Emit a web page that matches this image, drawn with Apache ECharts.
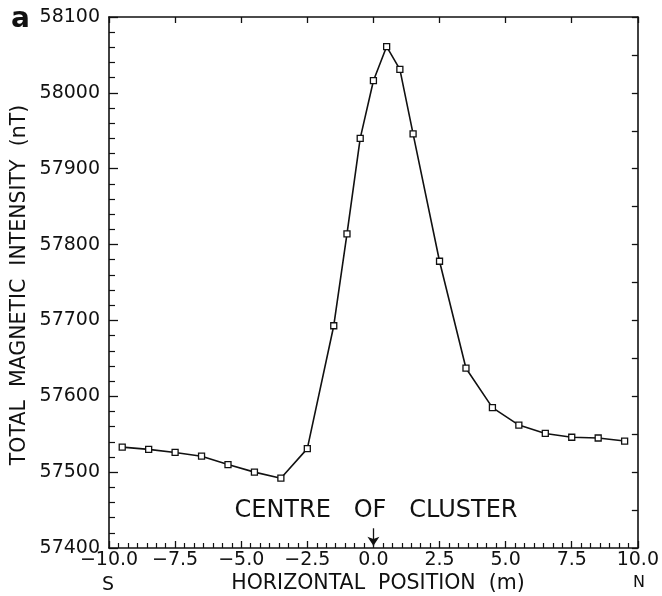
<!DOCTYPE html>
<html>
<head>
<meta charset="utf-8">
<script src="https://cdn.jsdelivr.net/npm/echarts@6/dist/echarts.min.js"></script>
<style>
html,body{margin:0;padding:0;background:#fff;}
#chart{width:662px;height:596px;}
</style>
</head>
<body>
<div id="chart"></div>
<script>
// Horizontal position (m)
var positions = [-9.5,-8.5,-7.5,-6.5,-5.5,-4.5,-3.5,-2.5,-1.5,-1.0,-0.5,0.0,0.5,1.0,1.5,2.5,3.5,4.5,5.5,6.5,7.5,8.5,9.5];
// Total magnetic intensity (nT)
var intensity = [57533,57530,57526,57521,57510,57500,57492,57531,57693,57814,57940,58016,58061,58031,57946,57778,57637,57585,57562,57551,57546,57545,57541];
// Axis settings
var xRange = [-10, 10], xStep = 2.5, xMinorDivisions = 7;
var yRange = [57400, 58100], yStep = 100, yMinorDivisions = 5, yRightStep = 50;
// Centre of cluster marker
var clusterCentre = 0.0;
var arrowFrom = 57426, arrowTo = 57403;

var FONT = 'DejaVu Sans';
var INK = '#111';

var chart = echarts.init(document.getElementById('chart'), null, {renderer: 'canvas'});

function fmtX(v){ return v.toFixed(1).replace('-', '\u2212'); }
function fmtY(v){ return String(Math.round(v)); }

var pts = positions.map(function(p, i){ return [p, intensity[i]]; });

chart.setOption({
  animation: false,
  backgroundColor: '#fff',
  grid: {left: 109, right: 22, top: 17, bottom: 48, containLabel: false},
  xAxis: [{
    type: 'value', min: xRange[0], max: xRange[1], interval: xStep,
    axisLine: {show: true, onZero: false, lineStyle: {color: INK, width: 1.6}},
    axisTick: {show: true, inside: true, length: 7, lineStyle: {color: INK, width: 1.3}},
    minorTick: {show: true, splitNumber: xMinorDivisions, length: 5, lineStyle: {color: INK, width: 1.2}},
    splitLine: {show: false},
    axisLabel: {show: true, margin: 3, fontFamily: FONT, fontSize: 19, color: INK, formatter: fmtX}
  }, {
    type: 'value', position: 'top', min: xRange[0], max: xRange[1], interval: xStep,
    axisLine: {show: true, onZero: false, lineStyle: {color: INK, width: 1.6}},
    axisTick: {show: true, inside: true, length: 6, lineStyle: {color: INK, width: 1.3}},
    splitLine: {show: false},
    axisLabel: {show: false}
  }],
  yAxis: [{
    type: 'value', min: yRange[0], max: yRange[1], interval: yStep,
    axisLine: {show: true, onZero: false, lineStyle: {color: INK, width: 1.6}},
    axisTick: {show: true, inside: true, length: 9, lineStyle: {color: INK, width: 1.3}},
    minorTick: {show: true, splitNumber: yMinorDivisions, length: 6, lineStyle: {color: INK, width: 1.2}},
    splitLine: {show: false},
    axisLabel: {show: true, margin: 9, fontFamily: FONT, fontSize: 19, color: INK, formatter: fmtY}
  }, {
    type: 'value', position: 'right', min: yRange[0], max: yRange[1], interval: yRightStep,
    axisLine: {show: true, onZero: false, lineStyle: {color: INK, width: 1.6}},
    axisTick: {show: true, inside: true, length: 6, lineStyle: {color: INK, width: 1.3}},
    splitLine: {show: false},
    axisLabel: {show: false}
  }],
  series: [{
    type: 'line',
    data: pts,
    xAxisIndex: 0, yAxisIndex: 0,
    symbol: 'rect', symbolSize: 6,
    showAllSymbol: true,
    lineStyle: {color: INK, width: 1.6},
    itemStyle: {color: '#fff', borderColor: INK, borderWidth: 1.3},
    z: 3,
    markLine: {
      silent: true,
      symbol: ['none', 'arrow'],
      symbolSize: [9, 9],
      lineStyle: {color: INK, width: 1.3, type: 'solid'},
      label: {show: false},
      data: [[{coord: [clusterCentre, arrowFrom]}, {coord: [clusterCentre, arrowTo]}]]
    }
  }],
  graphic: [
    {type: 'text', left: 11, top: 6, style: {text: 'a', font: 'bold 28px "' + FONT + '"', fill: INK}},
    {type: 'text', x: 376, y: 511, style: {text: 'CENTRE   OF   CLUSTER', font: '24px "' + FONT + '"', fill: INK, align: 'center', verticalAlign: 'middle'}},
    {type: 'text', x: 378, y: 584, style: {text: 'HORIZONTAL  POSITION  (m)', font: '20.5px "' + FONT + '"', fill: INK, align: 'center', verticalAlign: 'middle'}},
    {type: 'text', x: 108, y: 585, style: {text: 'S', font: '19px "' + FONT + '"', fill: INK, align: 'center', verticalAlign: 'middle'}},
    {type: 'text', x: 639, y: 583, style: {text: 'N', font: '16px "' + FONT + '"', fill: INK, align: 'center', verticalAlign: 'middle'}},
    {type: 'text', x: 20, y: 285, rotation: Math.PI / 2, style: {text: 'TOTAL  MAGNETIC  INTENSITY  (nT)', font: '20.5px "' + FONT + '"', fill: INK, align: 'center', verticalAlign: 'middle'}}
  ]
});
</script>
</body>
</html>
